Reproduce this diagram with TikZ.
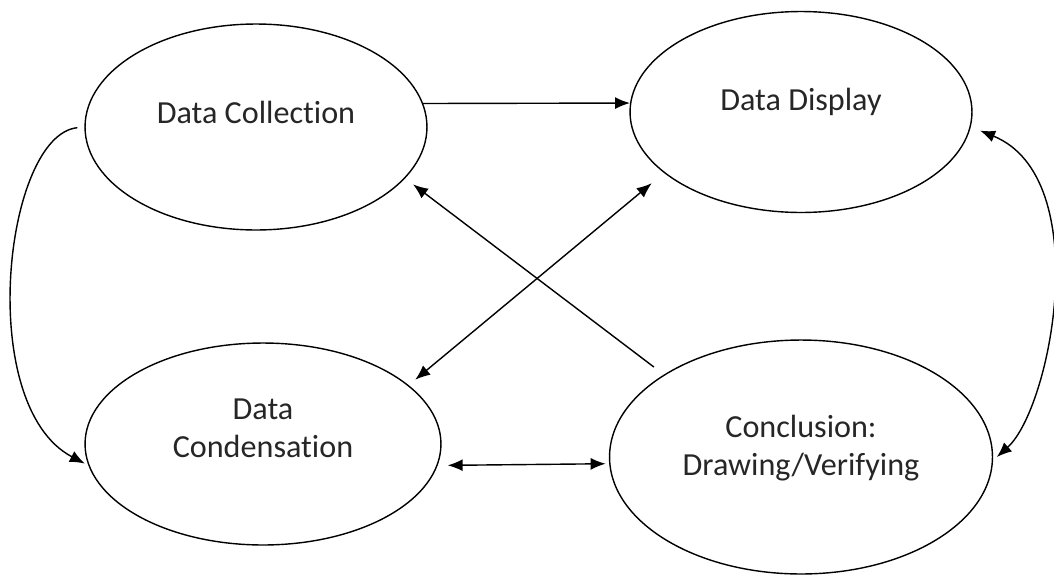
\documentclass[tikz,border=0pt]{standalone}
\usepackage{fontspec}
\setmainfont{Carlito}[Ligatures=NoCommon]
\usetikzlibrary{positioning,shapes.geometric,arrows.meta}

\begin{document}
\begin{tikzpicture}[
      x=0.02cm, y=-0.02cm, % <-- ONE UNIT IS ONE PIXEL OF THE LAYOUT
      phase/.style={draw, ellipse, line width=0.8pt, inner sep=0pt},
      caption/.style={align=center, inner sep=0pt, text=black!85, font=\fontsize{18.3}{21.5}\selectfont},
      link/.style={line width=0.8pt, -{Latex[length=0.3cm, width=0.24cm]}},
      twoway/.style={line width=0.8pt, {Latex[length=0.3cm, width=0.24cm]}-{Latex[length=0.3cm, width=0.24cm]}}
    ]
    \useasboundingbox (0,0) rectangle (1054,575);

    % Ellipses of the four phases
    \node[phase, minimum width=6.84cm, minimum height=4.12cm] (coll) at (256,127) {};
    \node[phase, minimum width=6.84cm, minimum height=4.02cm] (disp) at (801,112) {};
    \node[phase, minimum width=7.12cm, minimum height=4.04cm] (cond) at (263,444) {};
    \node[phase, minimum width=7.66cm, minimum height=4.68cm] (concl) at (801,457) {};

    % Texts, a little above the centres
    \node[caption] (collText) at (256,112) {Data Collection};
    \node[caption] (dispText) at (801,102) {Data Display};
    \node[caption] (condText) at (263,428) {Data\\Condensation};
    \node[caption] (conclText) at (801,448) {Conclusion:\\Drawing/Verifying};

    % Arrows
    \draw[link] (coll.8) -- (disp.177);
    \draw[link, shorten <=0.25cm, shorten >=0.2cm] (concl.149) -- (coll.-19);
    \draw[twoway, shorten <=0.17cm, shorten >=0.32cm] (cond.22) -- (disp.-156);
    \draw[twoway, shorten <=0.2cm, shorten >=0.07cm] (cond.-7) -- (concl.182.4);
    \draw[link, shorten <=0.14cm, shorten >=0.08cm] (coll.west) .. controls +(-80,8) and +(-114,-60) .. (cond.187);
    \draw[twoway, shorten <=0.2cm, shorten >=0.1cm] (disp.-5) .. controls +(125,51) and +(58,-52) .. (concl.-1.5);

  \end{tikzpicture}
\end{document}
